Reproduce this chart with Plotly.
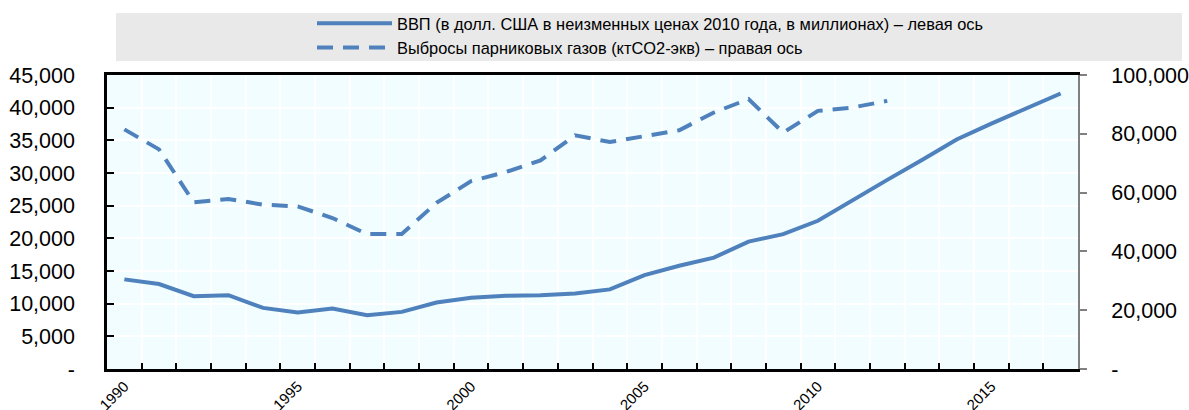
import plotly.graph_objects as go

years = list(range(1990, 2018))
gdp = [13720, 13000, 11150, 11300, 9350, 8640, 9250, 8230, 8740, 10180,
       10890, 11200, 11300, 11560, 12180, 14380, 15810, 17050, 19500, 20640,
       22690, 25900, 28950, 32000, 35140, 37550, 39860, 42170]
ghg = [81500, 74700, 56700, 57850, 55900, 55300, 51350, 45900, 45900, 56500,
       63900, 67000, 70950, 79500, 77200, 79300, 81200, 87250, 91800, 80400,
       87800, 88950, 91200, None, None, None, None, None]

name_gdp = "ВВП (в долл. США в неизменных ценах 2010 года, в миллионах) – левая ось"
name_ghg = "Выбросы парниковых газов (ктCO2-экв) – правая ось"

left_vals = list(range(0, 45001, 5000))
left_text = ["-"] + [f"{v:,}" for v in left_vals[1:]]
right_vals = list(range(0, 100001, 20000))
right_text = ["-"] + [f"{v:,}" for v in right_vals[1:]]
x_text = [str(y) if y % 5 == 0 else "" for y in years]

FONT = "Liberation Sans, Arial, sans-serif"
BLUE = "#4F81BD"

fig = go.Figure()
fig.add_trace(go.Scatter(x=[str(y) for y in years], y=gdp, name=name_gdp, mode="lines",
                         line=dict(color=BLUE, width=4), yaxis="y"))
fig.add_trace(go.Scatter(x=[str(y) for y in years], y=ghg, name=name_ghg, mode="lines",
                         line=dict(color=BLUE, width=4, dash="16px,10px"), yaxis="y2"))

W, H = 1189, 410
L, R, T, B = 107, 111, 75, 41
pw = W - L - R
ph = H - T - B

def px_x(x):
    return (x - L) / pw

def px_y(y):
    return (H - B - y) / ph

fig.add_shape(type="rect", xref="paper", yref="paper",
              x0=px_x(116), x1=px_x(1182), y0=px_y(61), y1=px_y(13),
              fillcolor="#E9E9E9", line=dict(width=0), layer="below")

fig.update_layout(
    width=W, height=H,
    margin=dict(l=L, r=R, t=T, b=B, autoexpand=False),
    paper_bgcolor="white",
    plot_bgcolor="#F1FDFF",
    font=dict(family=FONT, color="black"),
    showlegend=True,
    legend=dict(x=px_x(312), y=px_y(6),
                xanchor="left", yanchor="top", bgcolor="rgba(0,0,0,0)",
                font=dict(family=FONT, size=16.4, color="black"),
                itemwidth=75, tracegroupgap=0),
    xaxis=dict(type="category", tickmode="array", tickvals=[str(y) for y in years], ticktext=x_text,
               tickson="boundaries", ticks="inside", ticklen=6, tickwidth=2, tickcolor="black",
               showline=True, linecolor="black", linewidth=2.5, mirror=True,
               showgrid=True, gridcolor="white", gridwidth=1.5,
               tickangle=-45, tickfont=dict(family=FONT, size=15),
               range=[-0.5, len(years) - 0.5], automargin=False),
    yaxis=dict(range=[0, 45000], tickmode="array", tickvals=left_vals, ticktext=left_text,
               ticks="inside", ticklen=7, tickwidth=2, tickcolor="black",
               showline=True, linecolor="black", linewidth=2.5,
               showgrid=True, gridcolor="white", gridwidth=1.5, zeroline=False,
               tickfont=dict(family=FONT, size=21.5), ticklabelstandoff=25, automargin=False),
    yaxis2=dict(range=[0, 100000], tickmode="array", tickvals=right_vals, ticktext=right_text,
                overlaying="y", side="right",
                ticks="outside", ticklen=7, tickwidth=2, tickcolor="#808080",
                showline=True, linecolor="#808080", linewidth=2,
                showgrid=False, zeroline=False,
                tickfont=dict(family=FONT, size=21.5), ticklabelstandoff=20, automargin=False),
)

fig.write_html("out.html", config={"displayModeBar": False},
               post_script="document.body.style.margin='0';document.body.style.padding='0';")
